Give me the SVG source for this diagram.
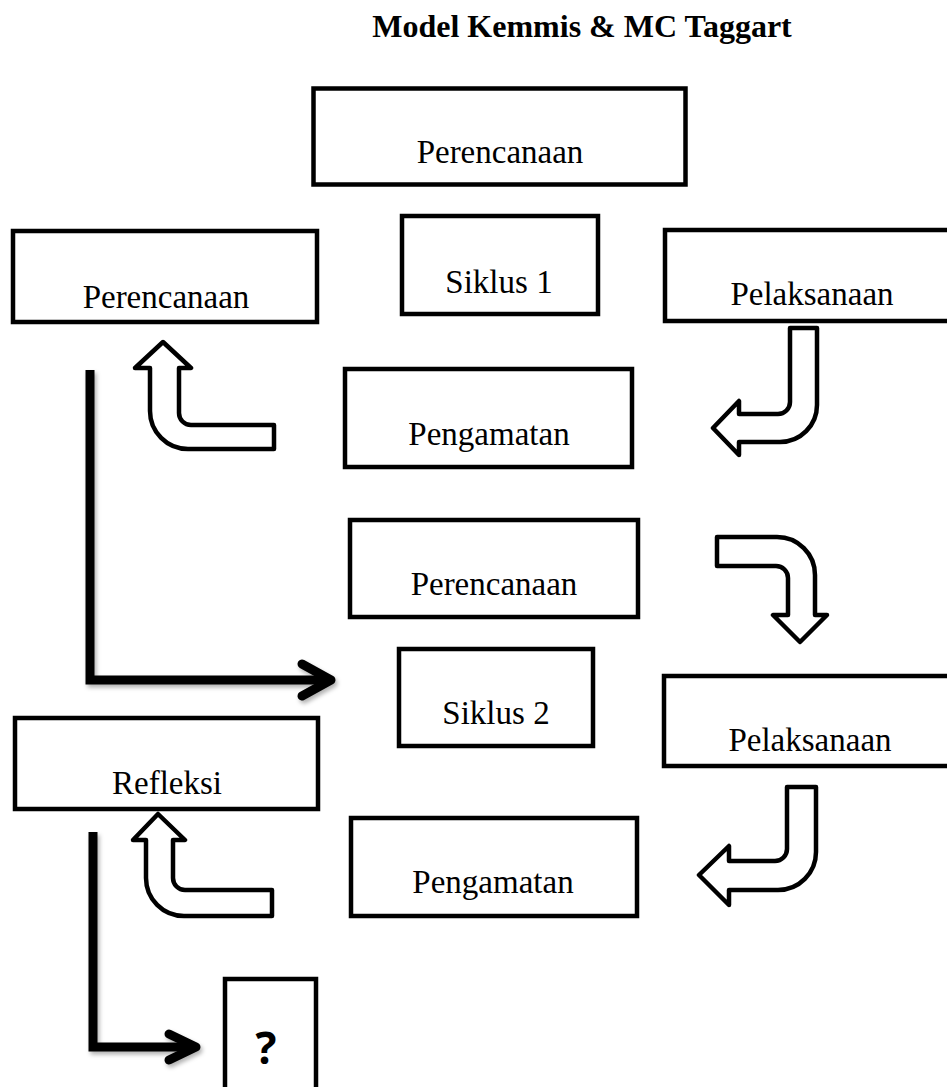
<svg xmlns="http://www.w3.org/2000/svg" width="947" height="1087" viewBox="0 0 947 1087">
<style>
.box{fill:#fff;stroke:#000;stroke-width:4.5}
.lbl{font-family:"Liberation Serif","Times New Roman",serif;font-size:33px;fill:#000;text-anchor:middle}
.title{font-family:"Liberation Serif","Times New Roman",serif;font-size:32px;font-weight:bold;fill:#000;text-anchor:middle}
.bent{fill:#fff;stroke:#000;stroke-width:4.5;stroke-linejoin:round}
.thick{fill:none;stroke:#000;stroke-width:9;stroke-linejoin:miter}
.chev{fill:none;stroke:#000;stroke-width:9;stroke-linecap:round;stroke-linejoin:round}
</style>
<defs>
<filter id="sh" x="-10%" y="-10%" width="130%" height="130%">
<feDropShadow dx="2" dy="3" stdDeviation="2" flood-color="#000" flood-opacity="0.3"/>
</filter>
</defs>
<rect width="947" height="1087" fill="#fff"/>
<text class="title" x="582" y="37">Model Kemmis &amp; MC Taggart</text>

<g id="n-perencanaan-top"><rect class="box" x="313.5" y="88.5" width="372" height="96"/><text class="lbl" x="500" y="163">Perencanaan</text></g>
<g id="n-siklus1"><rect class="box" x="402" y="216" width="196" height="98"/><text class="lbl" x="499" y="293">Siklus 1</text></g>
<g id="n-perencanaan-left"><rect class="box" x="13" y="231" width="304" height="91"/><text class="lbl" x="166" y="308">Perencanaan</text></g>
<g id="n-pelaksanaan1"><rect class="box" x="665" y="230" width="300" height="91"/><text class="lbl" x="812" y="305">Pelaksanaan</text></g>
<g id="n-pengamatan1"><rect class="box" x="345" y="369" width="287" height="98"/><text class="lbl" x="489" y="445">Pengamatan</text></g>
<g id="n-perencanaan2"><rect class="box" x="350" y="520" width="288" height="97"/><text class="lbl" x="494" y="595">Perencanaan</text></g>
<g id="n-siklus2"><rect class="box" x="399" y="649" width="194" height="97"/><text class="lbl" x="496" y="724">Siklus 2</text></g>
<g id="n-pelaksanaan2"><rect class="box" x="664" y="676" width="300" height="90"/><text class="lbl" x="810" y="751">Pelaksanaan</text></g>
<g id="n-refleksi"><rect class="box" x="15" y="718" width="303" height="91"/><text class="lbl" x="167" y="794">Refleksi</text></g>
<g id="n-pengamatan2"><rect class="box" x="351" y="818" width="286" height="98"/><text class="lbl" x="493" y="893">Pengamatan</text></g>
<g id="n-question"><rect class="box" x="225" y="979" width="91" height="200"/><text x="266" y="1064" font-family="'Open Sans','Liberation Sans',sans-serif" font-size="44" font-weight="bold" text-anchor="middle">?</text></g>

<g id="connectors">
<path class="bent" d="M790,328 L817,328 L817,405 A37 37 0 0 1 780,442 L739,442 L739,455 L713,428 L739,401 L739,414 L778,414 A12 12 0 0 0 790,402 Z"/>
<path class="bent" d="M717,537 L777,537 A38 38 0 0 1 815,575 L815,615 L827,615 L800,642 L773,615 L788,615 L788,578 A12 12 0 0 0 776,566 L717,566 Z"/>
<path class="bent" d="M787,787 L816,787 L816,852 A38 38 0 0 1 778,890 L729,890 L729,905 L699,875 L729,846 L729,861 L775,861 A12 12 0 0 0 787,849 Z"/>
<path class="bent" d="M163,342 L191,368 L179,368 L179,413 A12 12 0 0 0 191,425 L274,425 L274,449 L188,449 A38 38 0 0 1 150,411 L150,368 L135,368 Z"/>
<path class="bent" d="M158,814 L185,840 L173,840 L173,878 A12 12 0 0 0 185,890 L272,890 L272,916 L184,916 A38 38 0 0 1 146,878 L146,840 L133,840 Z"/>
<g filter="url(#sh)">
<path class="thick" d="M90,370 L90,680 L330,680"/>
<path class="chev" d="M302,664 L331,680 L302,696"/>
<path class="thick" d="M93,832 L93,1047 L195,1047"/>
<path class="chev" d="M169,1034 L196,1047 L169,1060"/>
</g>
</g>
</svg>
